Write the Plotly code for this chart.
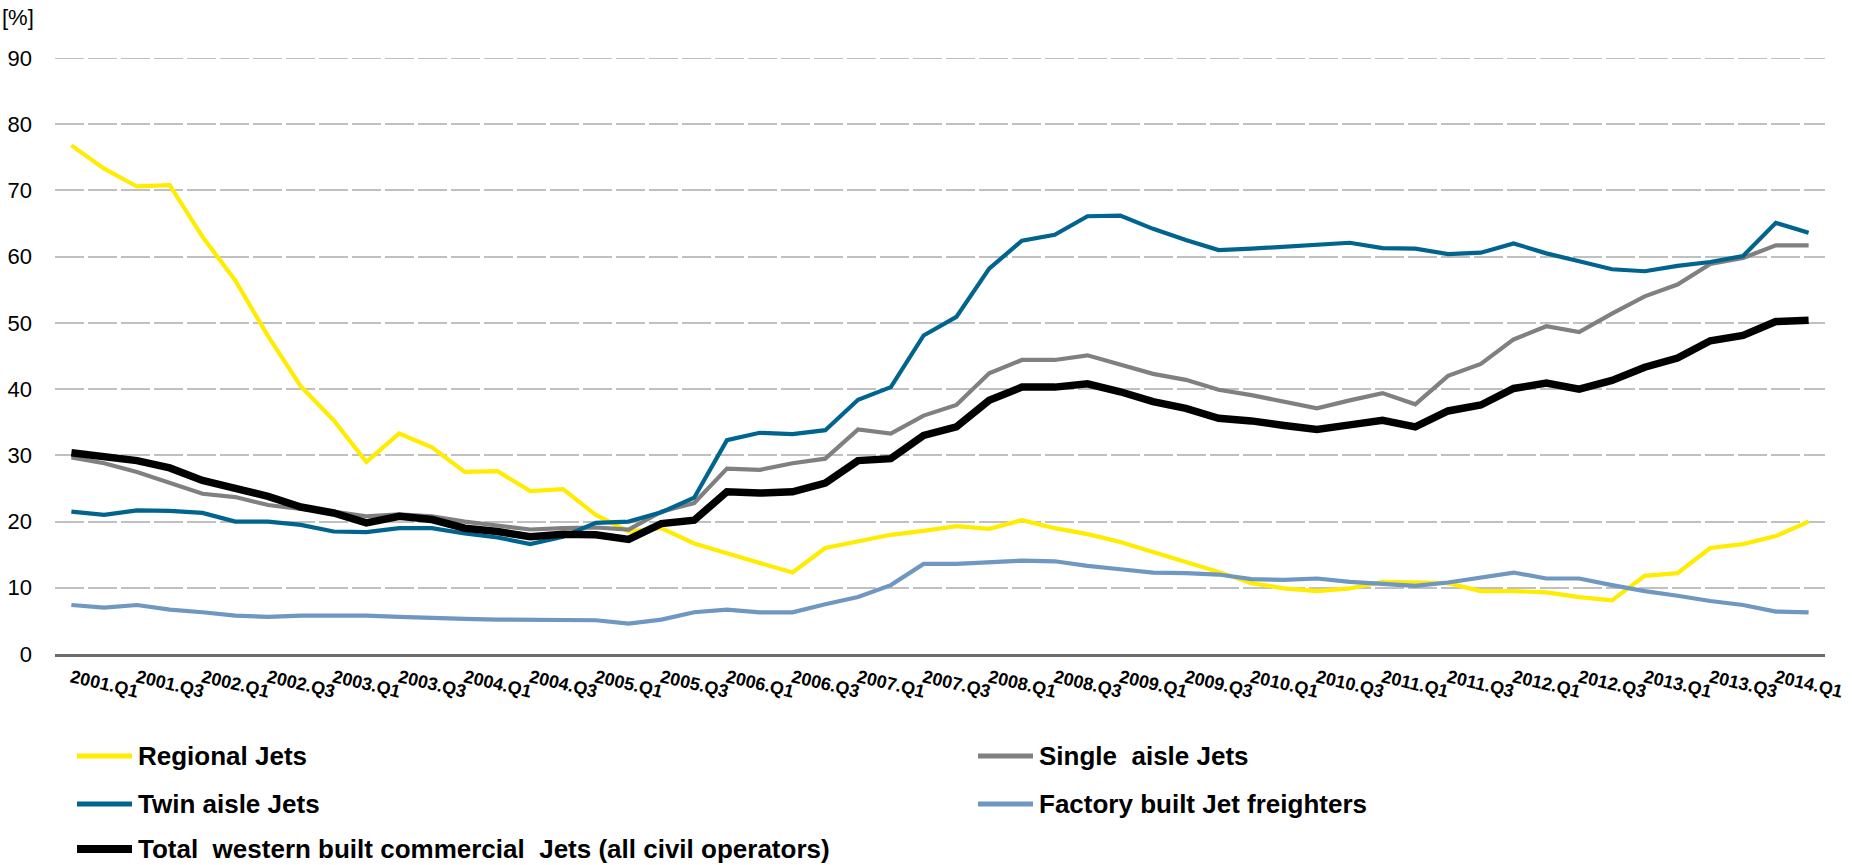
import plotly.graph_objects as go

# ---------------- data ----------------
years = list(range(2001, 2015))
categories = [f"{y}.Q{q}" for y in years for q in (1, 2, 3, 4)][:54]  # 2001.Q1 .. 2014.Q2
tick_labels = categories[::2]
y_ticks = [0, 10, 20, 30, 40, 50, 60, 70, 80, 90]

regional_jets = [76.8, 73.3, 70.6, 70.8, 63.0, 56.4, 48.0, 40.4, 35.3, 29.0,
                 33.3, 31.2, 27.5, 27.6, 24.6, 24.9, 21.0, 18.5, 19.0, 16.7,
                 15.2, 13.7, 12.3, 16.0, 17.0, 18.0, 18.6, 19.3, 18.9, 20.2,
                 19.0, 18.1, 16.9, 15.4, 14.0, 12.4, 10.7, 9.9, 9.5, 9.9,
                 10.9, 10.8, 10.7, 9.5, 9.5, 9.3, 8.6, 8.1, 11.8, 12.2,
                 16.0, 16.6, 17.8, 20.0]
single_aisle = [29.7, 28.8, 27.5, 25.9, 24.2, 23.7, 22.5, 21.9, 21.5, 20.8,
                21.1, 20.8, 20.0, 19.4, 18.8, 19.0, 19.1, 18.8, 21.5, 22.8,
                28.0, 27.8, 28.8, 29.5, 33.9, 33.3, 36.0, 37.6, 42.4, 44.4,
                44.4, 45.1, 43.7, 42.3, 41.4, 39.9, 39.1, 38.1, 37.1, 38.3,
                39.4, 37.7, 42.0, 43.8, 47.5, 49.5, 48.6, 51.4, 54.0, 55.8,
                58.9, 59.8, 61.7, 61.7]
twin_aisle = [21.5, 21.0, 21.7, 21.6, 21.3, 20.0, 20.0, 19.5, 18.5, 18.4,
              19.0, 19.0, 18.2, 17.6, 16.6, 17.7, 19.8, 20.0, 21.4, 23.6,
              32.3, 33.4, 33.2, 33.8, 38.4, 40.3, 48.1, 50.9, 58.2, 62.4,
              63.3, 66.1, 66.2, 64.2, 62.5, 61.0, 61.2, 61.5, 61.8, 62.1,
              61.3, 61.2, 60.4, 60.6, 62.0, 60.5, 59.3, 58.1, 57.8, 58.6,
              59.2, 60.1, 65.1, 63.6]
freighters = [7.4, 7.0, 7.4, 6.7, 6.3, 5.8, 5.6, 5.8, 5.8, 5.8,
              5.6, 5.4, 5.3, 5.2, 5.2, 5.2, 5.1, 4.6, 5.2, 6.3,
              6.7, 6.3, 6.3, 7.5, 8.6, 10.4, 13.6, 13.6, 13.9, 14.1,
              14.0, 13.3, 12.8, 12.3, 12.2, 12.0, 11.3, 11.2, 11.4, 10.9,
              10.6, 10.3, 10.8, 11.6, 12.3, 11.4, 11.4, 10.4, 9.5, 8.8,
              8.0, 7.4, 6.4, 6.3]
total_jets = [30.4, 29.7, 29.2, 28.1, 26.2, 25.0, 23.8, 22.2, 21.3, 19.8,
              20.8, 20.3, 19.0, 18.5, 17.7, 18.1, 18.0, 17.3, 19.7, 20.2,
              24.5, 24.3, 24.5, 25.8, 29.2, 29.5, 33.0, 34.3, 38.3, 40.3,
              40.3, 40.8, 39.6, 38.1, 37.1, 35.6, 35.2, 34.5, 33.9, 34.6,
              35.3, 34.3, 36.7, 37.6, 40.1, 40.9, 40.0, 41.3, 43.3, 44.7,
              47.3, 48.1, 50.2, 50.4]

series_names = ["Regional Jets", "Single  aisle Jets", "Twin aisle Jets",
                "Factory built Jet freighters",
                "Total  western built commercial  Jets (all civil operators)"]
series_values = [regional_jets, single_aisle, twin_aisle, freighters, total_jets]
series_colors = ["#FFEC00", "#808080", "#00648E", "#6E97C1", "#000000"]
series_widths = [4.2, 4.2, 4.2, 4.2, 7.5]

# ---------------- layout geometry (pixels) ----------------
W, H = 1852, 865
ML, MR, MT, MB = 55, 27, 58, 211
PW = W - ML - MR
PH = H - MT - MB


def px_x(px):
    return (px - ML) / PW


def px_y(py):
    return (H - MB - py) / PH


fig = go.Figure()
for name, vals, col, wdt in zip(series_names, series_values, series_colors, series_widths):
    fig.add_trace(go.Scatter(x=categories, y=vals, mode="lines", name=name,
                             line=dict(color=col, width=wdt), showlegend=False))

shapes = []
annotations = []

# top gridline (plotly omits the gridline lying on the plot edge)
shapes.append(dict(type="line", xref="paper", yref="y", x0=0, x1=1,
                   y0=y_ticks[-1], y1=y_ticks[-1], layer="below",
                   line=dict(color="#C0C0C0", width=2, dash="29px,4px")))

# manual legend (two columns, three rows)
legend_pos = [(77, 756), (978, 756), (77, 804), (978, 804), (77, 849)]
legend_widths = [5, 5, 5, 5, 8]
for (lx, ly), name, col, lw in zip(legend_pos, series_names, series_colors, legend_widths):
    shapes.append(dict(type="line", xref="paper", yref="paper",
                       x0=px_x(lx), x1=px_x(lx + 55), y0=px_y(ly), y1=px_y(ly),
                       line=dict(color=col, width=lw)))
    annotations.append(dict(xref="paper", yref="paper", x=px_x(lx + 59), y=px_y(ly),
                            xanchor="left", yanchor="middle", showarrow=False,
                            text=name.replace("  ", "&nbsp; "),
                            font=dict(family="Liberation Sans, Arial", size=26,
                                      color="#000000", weight="bold")))

annotations.append(dict(xref="paper", yref="paper", x=px_x(0), y=px_y(17),
                        xanchor="left", yanchor="middle", showarrow=False,
                        text="[%]",
                        font=dict(family="Liberation Sans, Arial", size=22, color="#000000")))

fig.update_layout(
    width=W, height=H,
    margin=dict(l=ML, r=MR, t=MT, b=MB, pad=0),
    paper_bgcolor="white", plot_bgcolor="white",
    shapes=shapes, annotations=annotations,
    showlegend=False,
)
fig.update_xaxes(
    type="category", range=[-0.5, 53.5], automargin=False,
    tickmode="array", tickvals=tick_labels, ticktext=tick_labels,
    tickangle=13, ticks="", ticklabelstandoff=4,
    tickfont=dict(family="Liberation Sans, Arial", size=18, color="#000000", weight="bold"),
    showline=True, linecolor="#6B6B6B", linewidth=2.5,
    showgrid=False, zeroline=False,
)
fig.update_yaxes(
    range=[0, 90], tickvals=y_ticks, automargin=False,
    tickfont=dict(family="Liberation Sans, Arial", size=22, color="#000000"),
    ticks="", ticklabelstandoff=22,
    showgrid=True, gridcolor="#C0C0C0", gridwidth=2, griddash="29px,4px",
    zeroline=False, showline=False,
)

fig.write_html("out.html")
